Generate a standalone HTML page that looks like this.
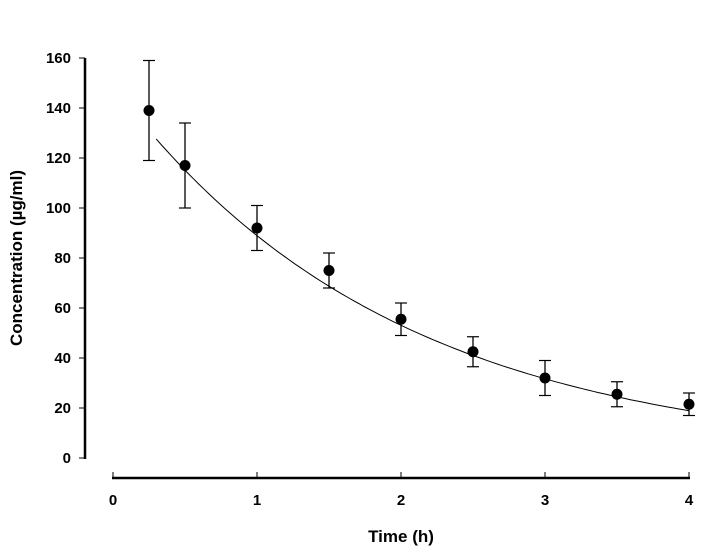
<!DOCTYPE html>
<html><head><meta charset="utf-8"><style>
body{margin:0;background:#fff}
svg text{font-family:"Liberation Sans",Arial,sans-serif;font-weight:bold;fill:#000}
</style></head><body>
<svg id="chart" width="722" height="547" viewBox="0 0 722 547" xmlns="http://www.w3.org/2000/svg">
<g id="axes"></g><g id="curve"></g><g id="points"></g>
<text transform="translate(22,258) rotate(-90)" text-anchor="middle" font-size="17">Concentration (µg/ml)</text>
<text x="401" y="542" text-anchor="middle" font-size="17">Time (h)</text>
</svg>
<script>
const times=[0.25,0.5,1,1.5,2,2.5,3,3.5,4];
const means=[139,117,92,75,55.5,42.5,32,25.5,21.5];
const errs=[20,17,9,7,6.5,6,7,5,4.5];
const yTicks=[0,20,40,60,80,100,120,140,160];
const xTicks=[0,1,2,3,4];
const fitA=149, fitK=0.516, fitStart=0.3, fitEnd=4;
const NS="http://www.w3.org/2000/svg";
const xs=t=>113+t*144;
const ys=v=>458-v*2.5;
function mk(tag,attrs,parent){const e=document.createElementNS(NS,tag);for(const k in attrs)e.setAttribute(k,attrs[k]);parent.appendChild(e);return e;}
const axes=document.getElementById('axes');
let yl=mk('line',{x1:85,y1:ys(160),x2:85,y2:ys(0)+1,stroke:'#000','stroke-width':2.5},axes);


yTicks.forEach(v=>{
  mk('line',{x1:79,y1:ys(v),x2:85,y2:ys(v),stroke:'#000','stroke-width':1},axes);
  const t=mk('text',{x:71,y:ys(v)+5,'text-anchor':'end','font-size':15},axes);
  t.textContent=v;
  
  
});
let xl=mk('line',{x1:xs(0)-1,y1:478,x2:xs(4)+1,y2:478,stroke:'#000','stroke-width':2.5},axes);


xTicks.forEach(v=>{
  mk('line',{x1:xs(v),y1:472,x2:xs(v),y2:478,stroke:'#000','stroke-width':1},axes);
  const t=mk('text',{x:xs(v),y:505,'text-anchor':'middle','font-size':15},axes);
  t.textContent=v;
  
  
});
let d='';
for(let i=0;i<=100;i++){const t=fitStart+(fitEnd-fitStart)*i/100;d+=(i?'L':'M')+xs(t).toFixed(1)+','+ys(fitA*Math.exp(-fitK*t)).toFixed(1);}
const c=mk('path',{d:d,fill:'none',stroke:'#000','stroke-width':1},document.getElementById('curve'));


const pg=document.getElementById('points');
times.forEach((t,i)=>{
  const x=xs(t),y=ys(means[i]),yt=ys(means[i]+errs[i]),yb=ys(means[i]-errs[i]);
  const g=mk('g',{},pg);
  
  
  mk('line',{x1:x,y1:yt,x2:x,y2:yb,stroke:'#000','stroke-width':1.3},g);
  mk('line',{x1:x-6,y1:yt,x2:x+6,y2:yt,stroke:'#000','stroke-width':1.2},g);
  mk('line',{x1:x-6,y1:yb,x2:x+6,y2:yb,stroke:'#000','stroke-width':1.2},g);
  mk('circle',{cx:x,cy:y,r:5.5,fill:'#000'},g);
});
</script>
</body></html>
